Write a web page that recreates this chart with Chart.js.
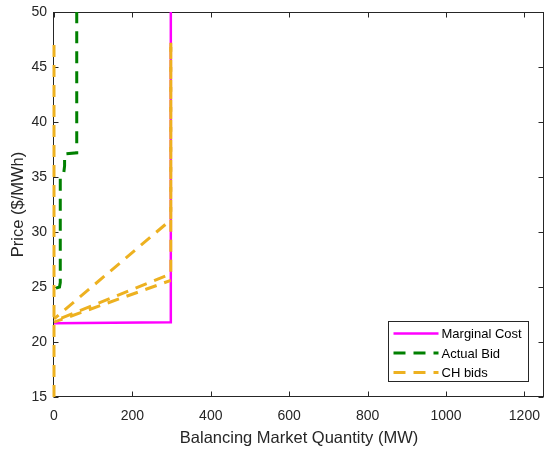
<!DOCTYPE html>
<html>
<head>
<meta charset="utf-8">
<script src="https://cdn.jsdelivr.net/npm/chart.js@4"></script>
<style>
  body { margin: 0; background: #fff; }
  canvas { display: block; }
</style>
</head>
<body>
<canvas id="bids" width="544" height="451"></canvas>
<script>
// marginal cost curve
const mcQ = [0, 298, 298];
const mcP = [21.7, 21.8, 50];

// actual bid (stepped)
const bidQ = [5, 14, 16, 16, 19, 25, 27, 27, 58, 58];
const bidP = [24.9, 25.0, 25.4, 34.9, 35.2, 35.4, 36.0, 37.1, 37.2, 50];

// CH bids
const ch1Q = [0, 0];
const ch1P = [15, 47.2];
const ch2Q = [0, 298, 298];
const ch2P = [22.1, 31.1, 47.2];
const ch3Q = [0, 298, 298];
const ch3P = [21.9, 26.2, 47.2];
const ch4Q = [0, 298];
const ch4P = [21.8, 25.6];

const xTicks = [0, 200, 400, 600, 800, 1000, 1200];
const yTicks = [15, 20, 25, 30, 35, 40, 45, 50];

const axisColor = '#262626';
const magenta = '#ff00ff';
const green = '#008000';
const orange = '#edb120';
const fontFam = '"Liberation Sans", Arial, sans-serif';

function pts(q, p) {
  return q.map((v, i) => ({ x: v, y: p[i] }));
}

function chSet(q, p, off) {
  return {
    label: 'CH bids',
    data: pts(q, p),
    borderColor: orange,
    borderWidth: 3,
    borderDash: [12, 8],
    borderDashOffset: off,
    pointRadius: 0,
    clip: 6,
    order: 1
  };
}

// box + inward ticks, matlab style
const boxPlugin = {
  id: 'box',
  beforeDatasetsDraw(chart) {
    const { ctx, chartArea: a, scales } = chart;
    ctx.save();
    ctx.strokeStyle = axisColor;
    ctx.lineWidth = 1;
    const l = Math.round(a.left) - 0.5, r = Math.round(a.right) - 0.5;
    const t = Math.round(a.top) + 0.5, b = Math.round(a.bottom) - 0.5;
    ctx.strokeRect(l, t, r - l, b - t);
    ctx.beginPath();
    scales.x.ticks.forEach(tk => {
      const px = Math.round(scales.x.getPixelForValue(tk.value)) + 0.5;
      ctx.moveTo(px, b); ctx.lineTo(px, b - 5);
      ctx.moveTo(px, t); ctx.lineTo(px, t + 5);
    });
    scales.y.ticks.forEach(tk => {
      const py = Math.round(scales.y.getPixelForValue(tk.value)) + 0.5;
      ctx.moveTo(l, py); ctx.lineTo(l + 5, py);
      ctx.moveTo(r, py); ctx.lineTo(r - 5, py);
    });
    ctx.stroke();
    ctx.restore();
  }
};

// legend box in lower right of axes
const legendPlugin = {
  id: 'matLegend',
  afterDraw(chart) {
    const { ctx, chartArea: a } = chart;
    const right = Math.round(a.right) - 15.5, bottom = Math.round(a.bottom) - 15.5;
    const w = 140, h = 60;
    const left = right - w, top = bottom - h;
    ctx.save();
    ctx.fillStyle = '#fff';
    ctx.fillRect(left, top, w, h);
    ctx.strokeStyle = axisColor;
    ctx.lineWidth = 1;
    ctx.strokeRect(left, top, w, h);
    const rows = [
      { text: 'Marginal Cost', ds: chart.data.datasets[0] },
      { text: 'Actual Bid', ds: chart.data.datasets[1] },
      { text: 'CH bids', ds: chart.data.datasets[2] }
    ];
    ctx.font = '13px ' + fontFam;
    ctx.textBaseline = 'middle';
    rows.forEach((row, i) => {
      const y = top + 12 + i * 19.5;
      ctx.beginPath();
      ctx.strokeStyle = row.ds.borderColor;
      ctx.lineWidth = row.ds.borderWidth;
      ctx.setLineDash(row.ds.borderDash || []);
      ctx.moveTo(left + 5, y);
      ctx.lineTo(left + 50, y);
      ctx.stroke();
      ctx.setLineDash([]);
      ctx.fillStyle = '#000';
      ctx.fillText(row.text, left + 53, y + 1);
    });
    ctx.restore();
  }
};

new Chart(document.getElementById('bids'), {
  type: 'line',
  data: {
    datasets: [
      {
        label: 'Marginal Cost',
        data: pts(mcQ, mcP),
        borderColor: magenta,
        borderWidth: 2.5,
        pointRadius: 0,
        clip: 6,
        order: 3
      },
      {
        label: 'Actual Bid',
        data: pts(bidQ, bidP),
        borderColor: green,
        borderWidth: 3,
        borderDash: [12, 8],
        pointRadius: 0,
        clip: 6,
        order: 2
      },
      chSet(ch1Q, ch1P, 0),
      chSet(ch2Q, ch2P, 6),
      chSet(ch3Q, ch3P, 12),
      chSet(ch4Q, ch4P, 3)
    ]
  },
  options: {
    responsive: false,
    animation: false,
    layout: { padding: { top: 12, right: 0, left: 0, bottom: 0 } },
    plugins: {
      legend: { display: false },
      tooltip: { enabled: false }
    },
    scales: {
      x: {
        type: 'linear',
        min: 0,
        max: 1250,
        grid: { display: false, drawTicks: false },
        border: { display: false },
        afterBuildTicks: s => { s.ticks = xTicks.map(v => ({ value: v })); },
        afterFit: s => { s.height = 54; s.paddingLeft = 0; s.paddingRight = 0; },
        ticks: {
          padding: 11,
          color: axisColor,
          callback: v => String(v),
          font: { family: fontFam, size: 14 }
        },
        title: {
          display: true,
          text: 'Balancing Market Quantity (MW)',
          color: axisColor,
          padding: { top: 0, bottom: 3 },
          font: { family: fontFam, size: 16.5 }
        }
      },
      y: {
        min: 15,
        max: 50,
        grid: { display: false, drawTicks: false },
        border: { display: false },
        afterBuildTicks: s => { s.ticks = yTicks.map(v => ({ value: v })); },
        afterFit: s => { s.width = 54; s.paddingTop = 0; s.paddingBottom = 0; },
        ticks: {
          padding: 7,
          color: axisColor,
          callback: v => String(v),
          font: { family: fontFam, size: 14 }
        },
        title: {
          display: true,
          text: 'Price ($/MWh)',
          color: axisColor,
          padding: { top: 9, bottom: 0 },
          font: { family: fontFam, size: 16.5 }
        }
      }
    }
  },
  plugins: [boxPlugin, legendPlugin]
});
</script>
</body>
</html>
